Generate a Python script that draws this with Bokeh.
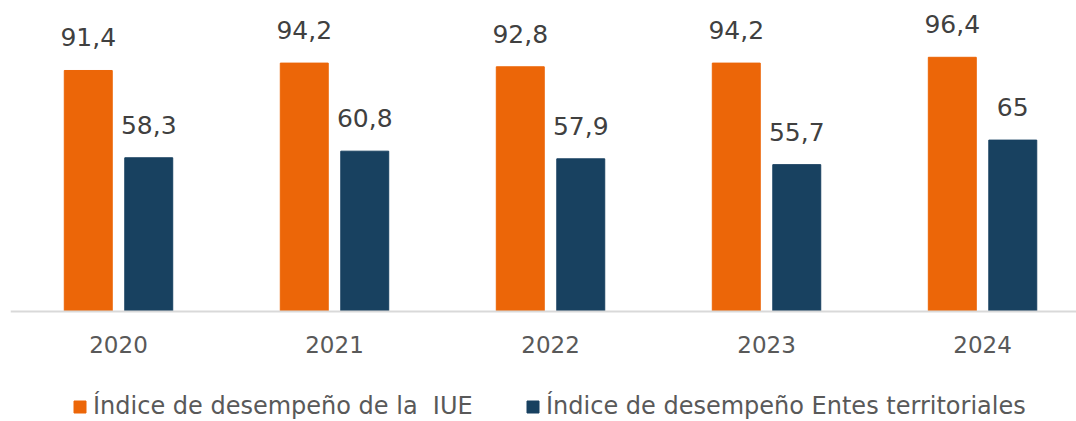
from bokeh.plotting import figure
from bokeh.models import ColumnDataSource, LabelSet, Legend, LegendItem, Range1d, FixedTicker
from bokeh.core.properties import value
from bokeh.transform import dodge
from bokeh.embed import file_html
from bokeh.resources import INLINE

years = ["2020", "2021", "2022", "2023", "2024"]
iue = [91.4, 94.2, 92.8, 94.2, 96.4]
entes = [58.3, 60.8, 57.9, 55.7, 65.0]
iue_labels = ["91,4", "94,2", "92,8", "94,2", "96,4"]
entes_labels = ["58,3", "60,8", "57,9", "55,7", "65"]
series_names = ["Índice de desempeño de la  IUE", "Índice de desempeño Entes territoriales"]

ORANGE = "#EC6608"
NAVY = "#184160"
FONT = "DejaVu Sans"

pos = list(range(len(years)))
src = ColumnDataSource(dict(x=pos, iue=iue, entes=entes, il=iue_labels, el=entes_labels))

p = figure(width=1076, height=421, output_backend="svg", toolbar_location=None,
           x_range=Range1d(-0.5, 4.435), y_range=Range1d(-41.71, 117.94),
           min_border_left=10, min_border_right=0, min_border_top=0, min_border_bottom=0)

r1 = p.vbar(x=dodge("x", -0.14, range=p.x_range), top="iue", width=0.222, source=src,
            fill_color=ORANGE, line_color=ORANGE)
r2 = p.vbar(x=dodge("x", 0.14, range=p.x_range), top="entes", width=0.222, source=src,
            fill_color=NAVY, line_color=NAVY)

for col, lab, off in (("iue", "il", -0.14), ("entes", "el", 0.14)):
    ls = LabelSet(x=dodge("x", off, range=p.x_range), y=col, text=lab, source=src,
                  text_align="center", text_baseline="alphabetic", y_offset=24,
                  text_font=value(FONT), text_font_size=value("25px"),
                  text_color=value("#404040"))
    p.add_layout(ls)

p.yaxis.visible = False
p.xgrid.grid_line_color = None
p.ygrid.grid_line_color = None
p.outline_line_color = None

ax = p.xaxis[0]
ax.fixed_location = 0
ax.ticker = FixedTicker(ticks=pos)
ax.major_label_overrides = {i: y for i, y in zip(pos, years)}
ax.axis_line_color = "#D9D9D9"
ax.axis_line_width = 2
ax.major_tick_line_color = None
ax.minor_tick_line_color = None
ax.major_label_standoff = 18
ax.major_label_text_font = FONT
ax.major_label_text_font_size = "23px"
ax.major_label_text_color = "#595959"

legend = Legend(items=[LegendItem(label=series_names[0], renderers=[r1]),
                       LegendItem(label=series_names[1], renderers=[r2])],
                location=(62, 1), orientation="horizontal", padding=0, margin=0, spacing=0,
                border_line_color=None, background_fill_alpha=0,
                glyph_width=15, glyph_height=15, label_height=15, label_width=432,
                label_standoff=6, label_text_font=FONT, label_text_font_size="24px",
                label_text_color="#595959", label_text_baseline="bottom")
p.add_layout(legend)

open("out.html", "w").write(file_html(p, INLINE))
